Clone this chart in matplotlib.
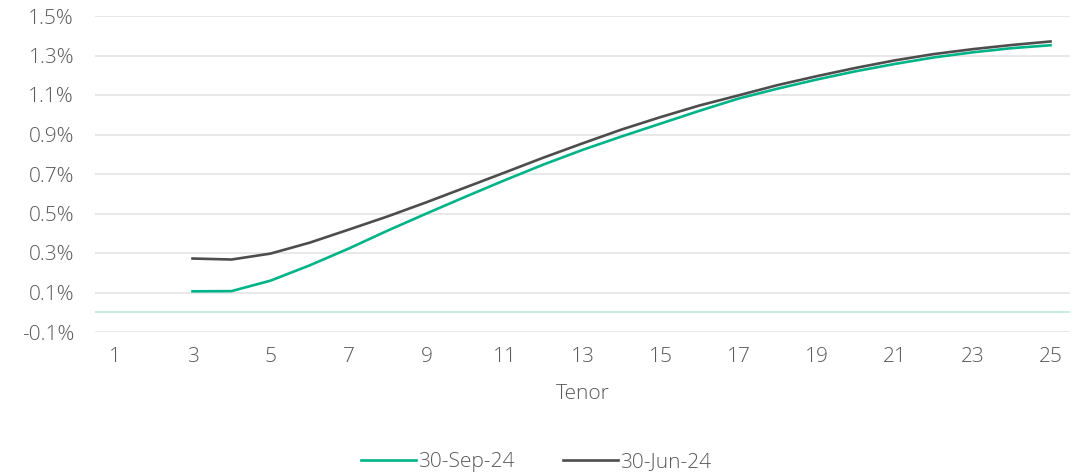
import numpy as np
import matplotlib
matplotlib.use("Agg")
import matplotlib.pyplot as plt
from matplotlib.ticker import FuncFormatter

plt.rcParams['font.family'] = ['Open Sans', 'DejaVu Sans']
plt.rcParams['font.weight'] = 'light'
plt.rcParams['axes.labelweight'] = 'light'

tenors = list(range(1, 26))
tenor_labels = [str(t) if t % 2 == 1 else "" for t in tenors]

# yield curve values in %, tenors 3..25
sep24 = [0.106, 0.107, 0.160, 0.237, 0.322, 0.413, 0.500, 0.585, 0.668, 0.748,
         0.822, 0.890, 0.955, 1.020, 1.082, 1.132, 1.178, 1.220, 1.257, 1.290,
         1.316, 1.337, 1.352]
jun24 = [0.272, 0.267, 0.297, 0.352, 0.418, 0.485, 0.557, 0.632, 0.707, 0.783,
         0.855, 0.925, 0.988, 1.047, 1.098, 1.150, 1.195, 1.237, 1.275, 1.307,
         1.332, 1.353, 1.371]
curve_tenors = tenors[2:]

yticks = [-0.1, 0.1, 0.3, 0.5, 0.7, 0.9, 1.1, 1.3, 1.5]

text_col = "#595959"
green = "#00B388"
dark = "#4D4D4D"

fig = plt.figure(figsize=(10.89, 4.76), dpi=100)
ax = fig.add_axes([95 / 1089, 1 - 332 / 476, 975 / 1089, 316 / 476])

ax.plot(curve_tenors, sep24, color=green, linewidth=1.9, label="30-Sep-24", zorder=3)
ax.plot(curve_tenors, jun24, color=dark, linewidth=1.9, label="30-Jun-24", zorder=3)

ax.axhline(0, color="#BDEBDD", linewidth=1.2, zorder=2)

ax.set_xlim(0.5, 25.5)
ax.set_ylim(-0.1, 1.5)
ax.set_yticks(yticks)
ax.yaxis.set_major_formatter(FuncFormatter(lambda v, p: f"{v:.1f}%"))
ax.set_xticks(tenors)
ax.set_xticklabels(tenor_labels)

ax.grid(axis="y", color="#E4E4E4", linewidth=1.2, zorder=1)
for s in ax.spines.values():
    s.set_visible(False)
ax.tick_params(axis="both", length=0, labelsize=15, labelcolor=text_col)
ax.tick_params(axis="y", pad=15)
ax.tick_params(axis="x", pad=11)

ax.set_xlabel("Tenor", fontsize=15, color=text_col, labelpad=12)

fig.legend(loc="center", bbox_to_anchor=(536 / 1089, 1 - 462 / 476), ncol=2,
           frameon=False, fontsize=15, labelcolor=text_col,
           handlelength=2.65, handletextpad=0.1, columnspacing=2.3)

fig.savefig("out.png", dpi=100)
